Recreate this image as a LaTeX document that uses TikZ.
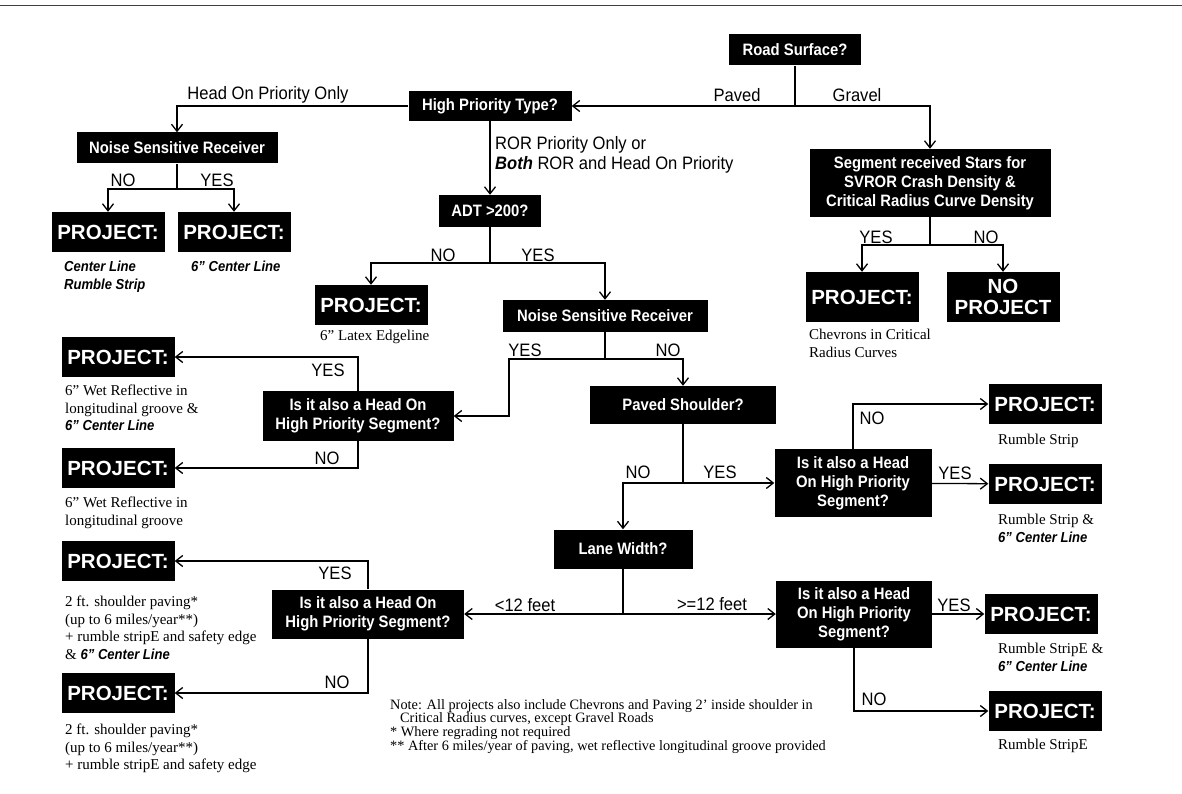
\documentclass[tikz,border=0pt]{standalone}
\usepackage{fontspec}
\setmainfont{Liberation Serif}
\newfontfamily\boxfont[FakeStretch=0.9]{Liberation Sans}
\newfontfamily\labfont[FakeStretch=0.92]{Liberation Sans}
\newfontfamily\projfont{Liberation Sans}
\usetikzlibrary{arrows.meta}
\newcommand{\CtrLine}[1]{{\boxfont\bfseries\itshape\fontsize{14.5}{17.5}\selectfont #1}}
\tikzset{
  box/.style={fill=black, text=white, align=center, inner sep=0pt,
    font=\boxfont\bfseries\fontsize{16.5}{19}\selectfont},
  proj/.style={box, minimum width=113pt, minimum height=40pt,
    font=\projfont\bfseries\fontsize{20.5}{21}\selectfont},
  lab/.style={inner sep=0pt, font=\labfont\fontsize{18}{20}\selectfont},
  desc/.style={inner sep=0pt, anchor=north west, align=left,
    font=\fontsize{15}{17.5}\selectfont},
  conn/.style={line width=1.3pt},
  arr/.style={conn, -{Straight Barb[length=7pt,width=11pt]}},
}

\begin{document}
\begin{tikzpicture}[x=1pt, y=-1pt]
\useasboundingbox (0,0) rectangle (1182,794);
\draw[line width=0.8pt, black!75] (0,5) -- (1182,5);

\node[box, minimum width=132pt, minimum height=31pt] (road) at (795,50) {Road Surface?};
\node[box, minimum width=163pt, minimum height=30pt] (prio) at (490,106) {High Priority Type?};
\node[box, minimum width=201pt, minimum height=31pt] (nsrA) at (177,148) {Noise Sensitive Receiver};
\node[proj] (pA1) at (108,232) {PROJECT:};
\node[proj] (pA2) at (234,232) {PROJECT:};
\node[box, minimum width=102pt, minimum height=32pt] (adt) at (490,211) {ADT >200?};
\node[proj] (pB) at (371,305) {PROJECT:};
\node[box, minimum width=205pt, minimum height=32pt] (nsrB) at (605,316) {Noise Sensitive Receiver};
\node[box, minimum width=241pt, minimum height=68pt] (seg) at (930,183)
  {Segment received Stars for\\SVROR Crash Density \&\\Critical Radius Curve Density};
\node[proj, minimum height=50pt] (pC) at (862,297) {PROJECT:};
\node[proj, minimum height=50pt] (noP) at (1003,297) {NO\\PROJECT};
\node[box, minimum width=191pt, minimum height=50pt] (hoA) at (358,416)
  {Is it also a Head On\\High Priority Segment?};
\node[proj] (pD1) at (118,357) {PROJECT:};
\node[proj] (pD2) at (118,468) {PROJECT:};
\node[box, minimum width=186pt, minimum height=38pt] (pav) at (683,405) {Paved Shoulder?};
\node[box, minimum width=157pt, minimum height=68pt] (hoB) at (853,483)
  {Is it also a Head\\On High Priority\\Segment?};
\node[proj] (pE1) at (1045,404) {PROJECT:};
\node[proj] (pE2) at (1045,484) {PROJECT:};
\node[box, minimum width=139pt, minimum height=39pt] (lane) at (623,549) {Lane Width?};
\node[box, minimum width=192pt, minimum height=49pt] (hoC) at (368,614)
  {Is it also a Head On\\High Priority Segment?};
\node[proj] (pF1) at (118,561) {PROJECT:};
\node[proj] (pF2) at (118,693) {PROJECT:};
\node[box, minimum width=156pt, minimum height=67pt] (hoD) at (854,614)
  {Is it also a Head\\On High Priority\\Segment?};
\node[proj] (pG1) at (1041,614) {PROJECT:};
\node[proj] (pG2) at (1045,711) {PROJECT:};

\coordinate (jR) at (795,106);
\coordinate (jA) at (177,189);
\coordinate (jT) at (490,263);
\coordinate (jS) at (930,245);
\coordinate (jN) at (605,359);
\coordinate (jN2) at (509,359);
\coordinate (jP) at (683,483);
\coordinate (jL) at (623,614);

\draw[conn] (road) -- (jR);
\draw[arr] (jR) -- (prio);
\draw[arr] (jR) -| (seg);
\draw[arr] (prio) -| (nsrA);
\draw[arr] (prio) -- (adt);
\draw[conn] (nsrA) -- (jA);
\draw[arr] (jA) -| (pA1);
\draw[arr] (jA) -| (pA2);
\draw[conn] (adt) -- (jT);
\draw[arr] (jT) -| (pB);
\draw[arr] (jT) -| (nsrB);
\draw[conn] (seg) -- (jS);
\draw[arr] (jS) -| (pC);
\draw[arr] (jS) -| (noP);
\draw[conn] (nsrB) -- (jN);
\draw[arr] (jN) -| (pav);
\draw[arr] (jN) -- (jN2) |- (hoA);
\draw[arr] (hoA) |- (pD1);
\draw[arr] (hoA) |- (pD2);
\draw[conn] (pav) -- (jP);
\draw[arr] (jP) -| (lane);
\draw[arr] (jP) -- (hoB);
\draw[arr] (hoB) |- (pE1);
\draw[arr] (hoB) -- (pE2);
\draw[conn] (lane) -- (jL);
\draw[arr] (jL) -- (hoC);
\draw[arr] (jL) -- (hoD);
\draw[arr] (hoC) |- (pF1);
\draw[arr] (hoC) |- (pF2);
\draw[arr] (hoD) -- (pG1);
\draw[arr] (hoD) |- (pG2);

\node[lab] (lHead) at (268,95) {Head On Priority Only};
\node[lab] (lPav) at (737,95) {Paved};
\node[lab] (lGrav) at (857,95) {Gravel};
\node[lab, anchor=north west, align=left] (lRor) at (495,136)
  {ROR Priority Only or\\\textbf{\textit{Both}} ROR and Head On Priority};
\node[lab] (lA1) at (123,180) {NO};
\node[lab] (lA2) at (217,180) {YES};
\node[lab] (lT1) at (443,255) {NO};
\node[lab] (lT2) at (538,255) {YES};
\node[lab] (lS1) at (876,237) {YES};
\node[lab] (lS2) at (986,237) {NO};
\node[lab] (lN1) at (525,350) {YES};
\node[lab] (lN2) at (668,350) {NO};
\node[lab] (lD1) at (328,370) {YES};
\node[lab] (lD2) at (327,458) {NO};
\node[lab] (lP1) at (638,472) {NO};
\node[lab] (lP2) at (720,472) {YES};
\node[lab] (lE1) at (872,418) {NO};
\node[lab] (lE2) at (955,473) {YES};
\node[lab] (lL1) at (525,605) {<12 feet};
\node[lab] (lL2) at (712,604) {>=12 feet};
\node[lab] (lF1) at (335,573) {YES};
\node[lab] (lF2) at (337,682) {NO};
\node[lab] (lG1) at (954,605) {YES};
\node[lab] (lG2) at (874,699) {NO};

\node[desc] (dA1) at (64,261) {\CtrLine{Center Line}\\\CtrLine{Rumble Strip}};
\node[desc] (dA2) at (191,261) {\CtrLine{6” Center Line}};
\node[desc] (dB) at (320,330) {6” Latex Edgeline};
\node[desc] (dC) at (809,329) {Chevrons in Critical\\Radius Curves};
\node[desc] (dD1) at (65,385) {6” Wet Reflective in\\longitudinal groove \&\\\CtrLine{6” Center Line}};
\node[desc] (dD2) at (65,497) {6” Wet Reflective in\\longitudinal groove};
\node[desc] (dE1) at (998,434) {Rumble Strip};
\node[desc] (dE2) at (998,514) {Rumble Strip \&\\\CtrLine{6” Center Line}};
\node[desc] (dF1) at (65,596) {2 ft. shoulder paving*\\(up to 6 miles/year**)\\+ rumble stripE and safety edge\\\& \CtrLine{6” Center Line}};
\node[desc] (dF2) at (65,724) {2 ft. shoulder paving*\\(up to 6 miles/year**)\\+ rumble stripE and safety edge};
\node[desc] (dG1) at (998,643) {Rumble StripE \&\\\CtrLine{6” Center Line}};
\node[desc] (dG2) at (998,739) {Rumble StripE};
\node[desc, font=\fontsize{14.3}{13.8}\selectfont] (note) at (390,699)
  {Note: All projects also include Chevrons and Paving 2’ inside shoulder in\\
   \hspace*{10pt}Critical Radius curves, except Gravel Roads\\
   * Where regrading not required\\
   ** After 6 miles/year of paving, wet reflective longitudinal groove provided};
\end{tikzpicture}
\end{document}
